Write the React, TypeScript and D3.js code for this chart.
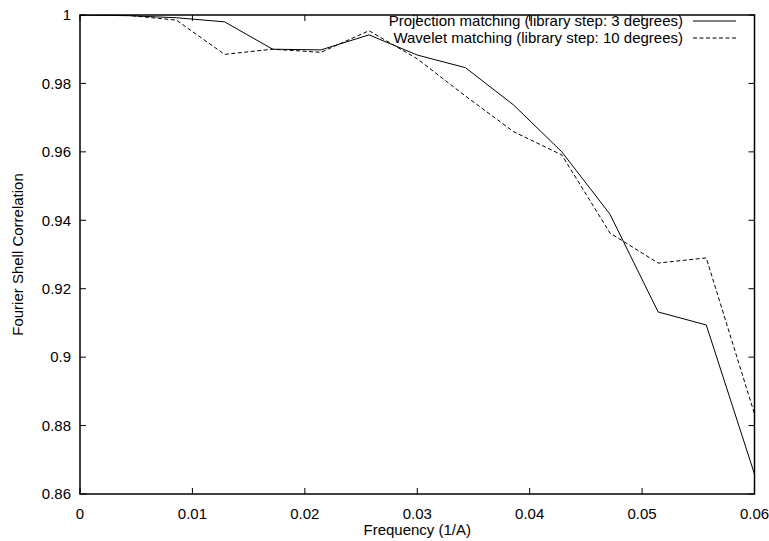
import React, { useEffect, useRef } from "react";
import * as d3 from "d3";

// frequency samples (1/A)
const freqs = [0, 0.00429, 0.00857, 0.01286, 0.01714, 0.02143, 0.02571, 0.03, 0.03429, 0.03857, 0.04286, 0.04714, 0.05143, 0.05571, 0.06];
const projection = [1, 0.9998, 0.9992, 0.998, 0.99, 0.9898, 0.9942, 0.9883, 0.9846, 0.9737, 0.96, 0.9418, 0.9132, 0.9094, 0.8658];
const wavelet = [1, 0.9999, 0.9985, 0.9885, 0.99, 0.9891, 0.9954, 0.9872, 0.9763, 0.9659, 0.9591, 0.9363, 0.9275, 0.929, 0.8834];
const xTicks = [0, 0.01, 0.02, 0.03, 0.04, 0.05, 0.06];
const yTicks = [0.86, 0.88, 0.9, 0.92, 0.94, 0.96, 0.98, 1];
const seriesNames = ["Projection matching (library step: 3 degrees)", "Wavelet matching (library step: 10 degrees)"];

export default function App() {
	const ref = useRef<SVGSVGElement>(null);

	useEffect(() => {
		var svg = d3.select(ref.current);
		svg.selectAll("*").remove();
		var margin = { top: 15, right: 15, bottom: 47, left: 80 },
			width = 769,
			height = 541;
		var x = d3.scaleLinear().domain([0, 0.06]).range([margin.left, width - margin.right + 0.5]);
		var y = d3.scaleLinear().domain([0.86, 1]).range([height - margin.bottom, margin.top]);
		var font = "'Liberation Sans', Arial, Helvetica, sans-serif";
		var tick = 6;

		var g = svg.append("g").style("font-family", font).style("font-size", "15px");

		// ticks on all four sides, pointing inward
		xTicks.forEach(function (t) {
			g.append("line").attr("x1", x(t)).attr("x2", x(t)).attr("y1", y(0.86)).attr("y2", y(0.86) - tick).attr("stroke", "#000");
			g.append("line").attr("x1", x(t)).attr("x2", x(t)).attr("y1", y(1)).attr("y2", y(1) + tick).attr("stroke", "#000");
			g.append("text").attr("x", x(t)).attr("y", y(0.86) + 20).attr("text-anchor", "middle").attr("dy", "0.35em").text(String(t));
		});
		yTicks.forEach(function (t) {
			g.append("line").attr("x1", x(0)).attr("x2", x(0) + tick).attr("y1", y(t)).attr("y2", y(t)).attr("stroke", "#000");
			g.append("line").attr("x1", x(0.06)).attr("x2", x(0.06) - tick).attr("y1", y(t)).attr("y2", y(t)).attr("stroke", "#000");
			g.append("text").attr("x", x(0) - 9).attr("y", y(t)).attr("text-anchor", "end").attr("dy", "0.35em").text(String(t));
		});

		var line = d3
			.line<number>()
			.x(function (d, i) {
				return x(freqs[i]);
			})
			.y(function (d) {
				return y(d);
			});

		svg.append("clipPath").attr("id", "plotclip").append("rect")
			.attr("x", x(0)).attr("y", y(1)).attr("width", x(0.06) - x(0)).attr("height", y(0.86) - y(1));

		g.append("path").attr("d", line(projection)).attr("fill", "none").attr("stroke", "#000").attr("stroke-width", 1).attr("clip-path", "url(#plotclip)");
		g.append("path").attr("d", line(wavelet)).attr("fill", "none").attr("stroke", "#000").attr("stroke-width", 1).attr("stroke-dasharray", "4,2.5").attr("clip-path", "url(#plotclip)");

		// frame
		g.append("rect")
			.attr("x", x(0)).attr("y", y(1)).attr("width", x(0.06) - x(0)).attr("height", y(0.86) - y(1))
			.attr("fill", "none").attr("stroke", "#000").attr("stroke-width", 1.5);

		// legend
		seriesNames.forEach(function (name, i) {
			var ly = 21 + i * 17;
			g.append("text").attr("x", 683).attr("y", ly).attr("dy", "0.35em").attr("text-anchor", "end").text(name);
			g.append("line").attr("x1", 693).attr("x2", 736).attr("y1", ly).attr("y2", ly).attr("stroke", "#000")
				.attr("stroke-dasharray", i === 1 ? "4,2.5" : null);
		});

		// axis titles
		g.append("text").attr("x", (x(0) + x(0.06)) / 2).attr("y", 530).attr("text-anchor", "middle").attr("dy", "0.35em").text("Frequency (1/A)");
		g.append("text").attr("transform", "translate(18," + (y(0.86) + y(1)) / 2 + ") rotate(-90)").attr("text-anchor", "middle").attr("dy", "0.35em").text("Fourier Shell Correlation");
	}, []);

	return (
		<svg ref={ref} width={769} height={541} style={{ position: "absolute", left: 0, top: 0, background: "#fff" }} />
	);
}
